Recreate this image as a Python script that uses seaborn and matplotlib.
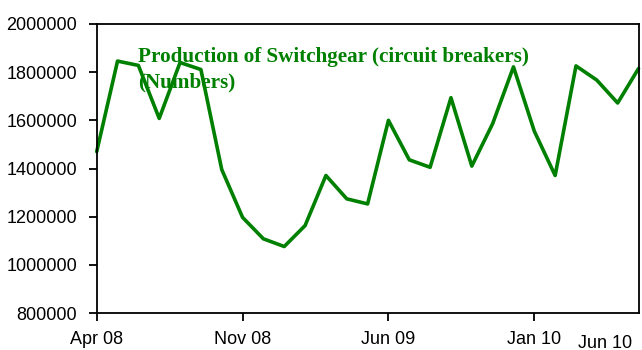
import matplotlib
matplotlib.use("Agg")
import matplotlib.pyplot as plt
import seaborn as sns
import pandas as pd

# Monthly production, Apr 08 .. Jun 10
months = ["Apr 08", "May 08", "Jun 08", "Jul 08", "Aug 08", "Sep 08", "Oct 08",
          "Nov 08", "Dec 08", "Jan 09", "Feb 09", "Mar 09", "Apr 09", "May 09",
          "Jun 09", "Jul 09", "Aug 09", "Sep 09", "Oct 09", "Nov 09", "Dec 09",
          "Jan 10", "Feb 10", "Mar 10", "Apr 10", "May 10", "Jun 10"]
production = [1470000, 1846000, 1828000, 1608000, 1840000, 1811000, 1396000,
              1197000, 1108000, 1076000, 1163000, 1371000, 1274000, 1253000,
              1600000, 1436000, 1405000, 1694000, 1410000, 1586000, 1822000,
              1555000, 1371000, 1826000, 1767000, 1672000, 1815000]
tick_labels = ["Apr 08", "Nov 08", "Jun 09", "Jan 10"]
y_ticks = [800000, 1000000, 1200000, 1400000, 1600000, 1800000, 2000000]
title_lines = ["Production of Switchgear (circuit breakers)", "(Numbers)"]

df = pd.DataFrame({"idx": range(len(months)), "month": months, "value": production})

sns.set_style("white")
plt.rcParams["font.family"] = ["Liberation Sans", "DejaVu Sans"]

W, H = 642, 350
fig = plt.figure(figsize=(W / 100, H / 100), dpi=100)
ax = fig.add_axes([96.7 / W, 1 - 313 / H, (638.5 - 96.7) / W, (313 - 24) / H])

green = "#008000"
sns.lineplot(data=df, x="idx", y="value", ax=ax, color=green, linewidth=2.6,
             clip_on=False)

ax.set_xlim(0, len(months) - 1)
ax.set_ylim(800000, 2000000)
ax.set_yticks(y_ticks)
ax.set_yticklabels([str(v) for v in y_ticks])
ax.set_xticks([months.index(m) for m in tick_labels])
ax.set_xticklabels(tick_labels)
ax.set_xlabel("")
ax.set_ylabel("")

for s in ax.spines.values():
    s.set_visible(True)
    s.set_color("black")
    s.set_linewidth(1.3)

ax.tick_params(axis="both", which="both", direction="out", length=6, width=1.3,
               color="black", labelsize=13, labelcolor="black",
               bottom=True, left=True)
ax.tick_params(axis="y", pad=8)
ax.tick_params(axis="x", pad=7)

# last month's label sits alone at the right edge
fig.text(578 / W, 1 - 343 / H, "Jun 10", ha="left", va="center", fontsize=13,
         color="black")

for line, base in zip(title_lines, [62, 87]):
    fig.text(138 / W, 1 - base / H, line, ha="left", va="baseline",
             fontsize=15.2, fontweight="bold",
             family=["Liberation Serif", "DejaVu Serif"], color=green)

fig.savefig("out.png", dpi=100)
